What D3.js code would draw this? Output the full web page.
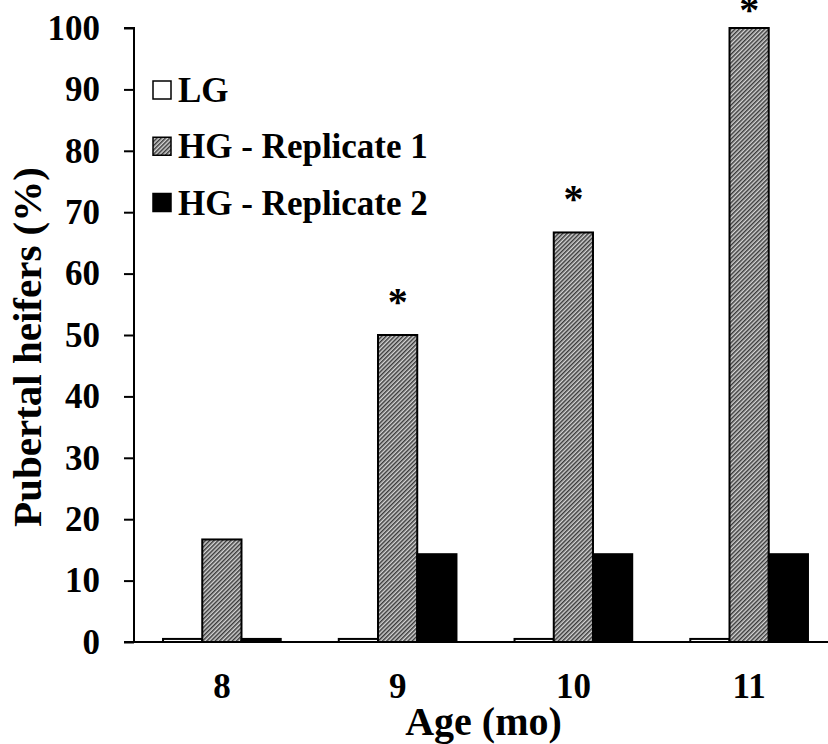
<!DOCTYPE html>
<html>
<head>
<meta charset="utf-8">
<script src="https://cdn.jsdelivr.net/npm/d3@7"></script>
<style>
  html, body { margin: 0; padding: 0; background: #fff; }
</style>
</head>
<body>
<svg id="chart" width="828" height="744"></svg>
<script>
// Age groups (months)
const ages = ["8", "9", "10", "11"];
// Series names
const seriesNames = ["LG", "HG - Replicate 1", "HG - Replicate 2"];
// Percentage of pubertal heifers per series, by age
const lgValues = [0.5, 0.5, 0.5, 0.5];
const hg1Values = [16.7, 50, 66.7, 100];
const hg2Values = [0.5, 14.3, 14.3, 14.3];
// Significance markers above HG - Replicate 1
const markers = ["", "*", "*", "*"];
const yTicks = [0, 10, 20, 30, 40, 50, 60, 70, 80, 90, 100];

const FONT = "Liberation Serif";
const svg = d3.select("#chart");
const plot = { left: 134, right: 837, top: 28, bottom: 642 };

const defs = svg.append("defs");
const pat = defs.append("pattern")
  .attr("id", "hatch")
  .attr("patternUnits", "userSpaceOnUse")
  .attr("width", 3).attr("height", 3)
  .attr("patternTransform", "rotate(45)");
pat.append("rect").attr("width", 3).attr("height", 3).attr("fill", "#d4d4d4");
pat.append("rect").attr("width", 1.5).attr("height", 3).attr("fill", "#3a3a3a");

const fills = ["#ffffff", "url(#hatch)", "#000000"];
const seriesValues = [lgValues, hg1Values, hg2Values];

const x0 = d3.scaleBand().domain(ages).range([plot.left, plot.right]).padding(0);
const x1 = d3.scaleBand().domain(seriesNames).range([0, x0.bandwidth()])
  .paddingInner(0).paddingOuter(0.74);
const y = d3.scaleLinear().domain([0, 100]).range([plot.bottom, plot.top]);

function styleText(sel, size) {
  return sel.attr("font-family", FONT).attr("font-weight", "bold")
    .attr("font-size", size).attr("fill", "#000");
}

// Bars
const groups = svg.append("g").selectAll("g")
  .data(ages)
  .join("g")
  .attr("transform", d => `translate(${x0(d)},0)`);

groups.selectAll("rect")
  .data((age, i) => seriesNames.map((s, k) => ({ s, k, v: seriesValues[k][i] })))
  .join("rect")
  .attr("x", d => x1(d.s))
  .attr("width", x1.bandwidth())
  .attr("y", d => y(d.v))
  .attr("height", d => y(0) - y(d.v))
  .attr("fill", d => fills[d.k])
  .attr("stroke", "#000")
  .attr("stroke-width", 2);

// Significance asterisks
svg.append("g").selectAll("text")
  .data(ages.map((a, i) => ({ a, m: markers[i], v: hg1Values[i] })).filter(d => d.m))
  .join("text")
  .attr("x", d => x0(d.a) + x1(seriesNames[1]) + x1.bandwidth() / 2)
  .attr("y", d => Math.max(y(d.v) - 20, 23))
  .attr("text-anchor", "middle")
  .call(styleText, 40)
  .text(d => d.m);

// Y axis
const yAxis = d3.axisLeft(y).tickValues(yTicks).tickSize(10).tickPadding(24).tickFormat(d3.format("d"));
const yg = svg.append("g").attr("transform", `translate(${plot.left},0)`).call(yAxis);
yg.attr("font-family", null).attr("font-size", null);
yg.select(".domain").attr("stroke", "#000").attr("stroke-width", 2).attr("d", `M-10,${plot.top}H0V${plot.bottom}`);
yg.selectAll(".tick line").attr("stroke", "#000").attr("stroke-width", 2);
yg.selectAll(".tick text").call(styleText, 35);

// X axis
const xAxis = d3.axisBottom(x0).tickSize(0).tickPadding(31);
const xg = svg.append("g").attr("transform", `translate(0,${plot.bottom})`).call(xAxis);
xg.attr("font-family", null).attr("font-size", null);
xg.select(".domain").attr("stroke", "#000").attr("stroke-width", 2).attr("d", `M${plot.left - 10},0H${plot.right}`);
xg.selectAll(".tick text").call(styleText, 35);

// Axis titles
svg.append("text")
  .attr("x", (plot.left + plot.right) / 2 - 2)
  .attr("y", 735)
  .attr("text-anchor", "middle")
  .call(styleText, 40)
  .text("Age (mo)");

svg.append("text")
  .attr("transform", "translate(41,347) rotate(-90)")
  .attr("text-anchor", "middle")
  .call(styleText, 41)
  .text("Pubertal heifers (%)");

// Legend
const legend = svg.append("g").selectAll("g")
  .data(seriesNames)
  .join("g")
  .attr("transform", (d, i) => `translate(152,${90 + i * 56.25})`);
legend.append("rect")
  .attr("x", 1).attr("y", -9).attr("width", 18).attr("height", 18)
  .attr("fill", (d, i) => fills[i])
  .attr("stroke", "#000").attr("stroke-width", 1.5);
legend.append("text")
  .attr("x", 26).attr("y", 12)
  .call(styleText, 35)
  .text(d => d);
</script>
</body>
</html>
